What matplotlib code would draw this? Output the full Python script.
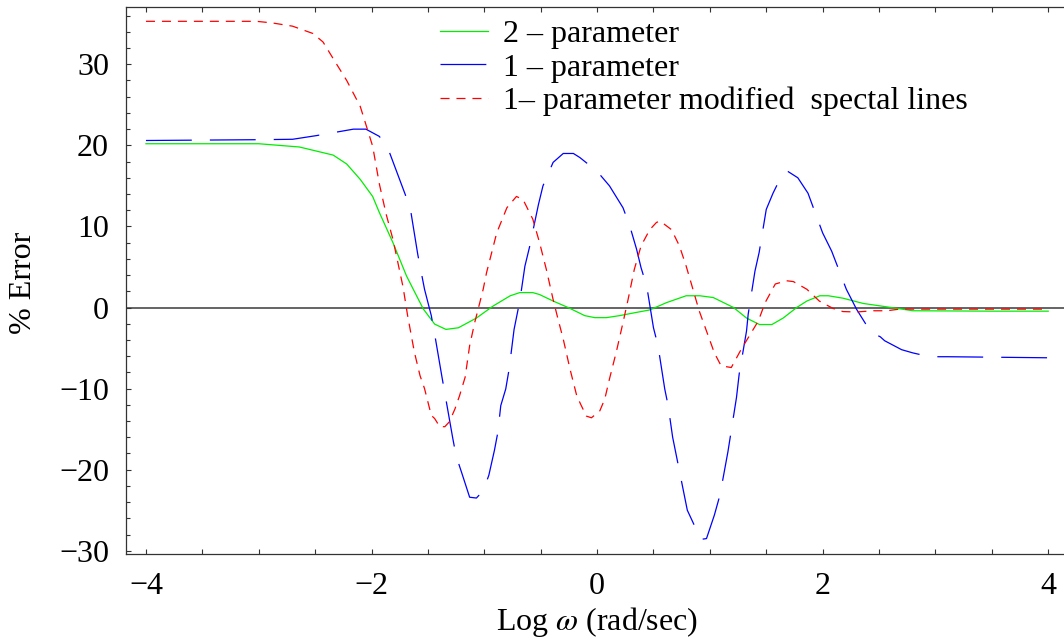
import matplotlib
matplotlib.use("Agg")
import matplotlib.pyplot as plt
from matplotlib.ticker import MultipleLocator, FixedLocator
import numpy as np

# CONFIGURACOES DO MATPLOTLIB
plt.rcParams["font.family"] = ["Liberation Serif", "DejaVu Serif"]
plt.rcParams["mathtext.fontset"] = "stix"
plt.rcParams["axes.unicode_minus"] = True
plt.rcParams["lines.scale_dashes"] = False

# 2 - parameter
log_w_2p = [-4.0, -3.0, -2.64, -2.34, -2.22, -2.1, -1.99, -1.93, -1.81, -1.69,
            -1.63, -1.54, -1.44, -1.34, -1.23, -1.07, -0.92, -0.77, -0.685, -0.57,
            -0.51, -0.39, -0.257, -0.11, -0.02, 0.083, 0.20, 0.35, 0.467, 0.615,
            0.79, 0.91, 1.03, 1.21, 1.325, 1.44, 1.55, 1.65, 1.77, 1.86,
            1.975, 2.05, 2.18, 2.36, 2.51, 2.8, 3.5, 4.0]
err_2p = [20.2, 20.2, 19.8, 18.8, 17.7, 15.8, 13.7, 11.7, 8.0, 3.9,
          2.25, -0.2, -2.05, -2.7, -2.5, -1.3, 0.2, 1.45, 1.84, 1.84,
          1.6, 0.8, 0.0, -1.0, -1.25, -1.25, -1.0, -0.6, -0.3, 0.6,
          1.45, 1.45, 1.23, 0.0, -1.3, -2.1, -2.1, -1.3, 0.0, 0.8,
          1.45, 1.45, 1.15, 0.5, 0.2, -0.4, -0.45, -0.45]

# 1 - parameter
log_w_1p = [-4.0, -3.0, -2.7, -2.49, -2.16, -2.05, -1.93, -1.84, -1.70, -1.65,
            -1.59, -1.53, -1.47, -1.44, -1.375, -1.28, -1.25, -1.20, -1.13, -1.07,
            -1.01, -0.96, -0.91, -0.88, -0.854, -0.81, -0.78, -0.736, -0.70, -0.67,
            -0.64, -0.60, -0.52, -0.48, -0.39, -0.30, -0.21, -0.153, 0.0, 0.11,
            0.23, 0.29, 0.35, 0.39, 0.44, 0.50, 0.54, 0.60, 0.63, 0.67,
            0.80, 0.92, 0.97, 1.04, 1.09, 1.16, 1.236, 1.26, 1.325, 1.34,
            1.40, 1.437, 1.50, 1.56, 1.62, 1.69, 1.78, 1.87, 2.0, 2.08,
            2.21, 2.30, 2.43, 2.51, 2.55, 2.70, 2.80, 2.95, 3.11, 4.0]
err_1p = [20.6, 20.7, 20.75, 21.2, 22.0, 22.0, 21.1, 19.1, 13.9, 11.7,
          6.55, 2.25, -1.0, -3.3, -8.6, -16.1, -18.3, -20.4, -23.4, -23.5,
          -22.6, -20.7, -17.6, -15.4, -12.1, -10.05, -7.6, -2.7, -0.2, 2.25,
          5.1, 7.4, 12.7, 15.0, 17.9, 19.0, 19.0, 18.5, 16.8, 15.0,
          12.3, 10.05, 7.2, 4.9, 2.65, -2.5, -4.7, -10.05, -12.1, -16.0,
          -25.0, -28.6, -28.5, -25.6, -23.1, -17.8, -11.1, -8.2, -2.9, -0.8,
          4.5, 6.8, 12.1, 14.1, 15.8, 16.8, 16.0, 14.1, 9.2, 6.95,
          2.25, -0.2, -3.1, -3.6, -4.1, -5.2, -5.6, -6.07, -6.07, -6.2]

# 1 - parameter, modified spectral lines
log_w_mod = [-4.0, -3.02, -2.88, -2.7, -2.52, -2.43, -2.34, -2.22, -2.13, -2.1,
             -1.99, -1.93, -1.87, -1.81, -1.72, -1.68, -1.62, -1.57, -1.53, -1.47,
             -1.44, -1.395, -1.35, -1.31, -1.26, -1.22, -1.17, -1.13, -1.085, -1.04,
             -1.01, -0.98, -0.89, -0.80, -0.715, -0.656, -0.57, -0.51, -0.45, -0.39,
             -0.346, -0.30, -0.24, -0.18, -0.14, -0.094, -0.05, 0.024, 0.068, 0.11,
             0.17, 0.23, 0.275, 0.33, 0.39, 0.467, 0.527, 0.56, 0.66, 0.73,
             0.79, 0.85, 0.905, 0.97, 1.04, 1.10, 1.19, 1.28, 1.35, 1.43,
             1.49, 1.58, 1.68, 1.74, 1.86, 1.97, 2.09, 2.18, 2.30, 2.45,
             2.57, 2.68, 4.0]
err_mod = [35.3, 35.3, 35.1, 34.7, 33.8, 32.75, 30.7, 28.0, 25.6, 24.8,
           19.9, 15.2, 11.5, 8.4, 2.5, -1.0, -5.5, -8.4, -10.0, -13.3,
           -13.7, -14.7, -14.7, -14.1, -12.5, -10.9, -8.6, -4.7, -1.85, 0.6,
           2.25, 4.3, 9.2, 12.3, 13.7, 13.3, 10.9, 8.0, 4.7, 1.0,
           -1.45, -3.9, -7.6, -10.9, -12.1, -13.4, -13.6, -12.75, -11.3, -8.8,
           -5.5, -1.85, 1.0, 4.7, 7.6, 9.6, 10.5, 10.65, 9.6, 7.6,
           5.1, 2.25, -0.4, -2.9, -5.6, -7.2, -7.4, -5.1, -3.5, -1.65,
           0.6, 2.9, 3.3, 3.2, 2.25, 0.8, -0.1, -0.5, -0.55, -0.4,
           -0.4, -0.2, -0.2]

labels = ["2 \u2013 parameter", "1 \u2013 parameter",
          "1\u2013 parameter modified  spectal lines"]


def plot_errors():
    fig = plt.figure(figsize=(10.64, 6.4), dpi=100)
    ax = fig.add_axes([0.1181, 0.1344, 0.8819, 0.8551])

    ax.axhline(0, color="#3a3a3a", lw=1.1, zorder=1)
    ax.plot(log_w_2p, err_2p, color="#00ee00", lw=0.9, label=labels[0])
    ax.plot(log_w_1p, err_1p, color="#0000ff", lw=0.9,
            dashes=(33, 13), label=labels[1])
    ax.plot(log_w_mod, err_mod, color="#ff0000", lw=0.9,
            dashes=(6.5, 5), label=labels[2])

    ax.set_xlim(-4.18, 4.14)
    ax.set_ylim(-30.4, 37.1)

    ax.xaxis.set_major_locator(FixedLocator([-4, -2, 0, 2, 4]))
    ax.xaxis.set_minor_locator(MultipleLocator(0.5))
    ax.yaxis.set_major_locator(MultipleLocator(10))
    ax.yaxis.set_minor_locator(MultipleLocator(2))
    ax.tick_params(which="both", direction="in", top=True, right=False,
                   color="#333333", width=0.8, labelsize=23)
    ax.tick_params(axis="x", which="both", length=3.6, pad=13)
    ax.tick_params(axis="y", which="major", length=3.6, pad=12)
    ax.tick_params(axis="y", which="minor", length=2.6)

    for side in ["left", "bottom", "top"]:
        ax.spines[side].set_color("#333333")
        ax.spines[side].set_linewidth(0.9)
    ax.spines["right"].set_visible(False)

    ax.set_xlabel("Log $\\omega$ (rad/sec)", fontsize=23, va="center")
    ax.xaxis.set_label_coords(0.5023, -0.1242)
    ax.set_ylabel("% Error", fontsize=23, va="center")
    ax.yaxis.set_label_coords(-0.1084, 0.495)

    ax.legend(loc="upper left", bbox_to_anchor=(440 / 1064, 1 - 19.5 / 640),
              bbox_transform=fig.transFigure, frameon=False, fontsize=23,
              handlelength=1.5, handletextpad=0.47, labelspacing=0.135,
              borderpad=0, borderaxespad=0)

    fig.savefig("out.png", dpi=100)


if __name__ == "__main__":
    plot_errors()
